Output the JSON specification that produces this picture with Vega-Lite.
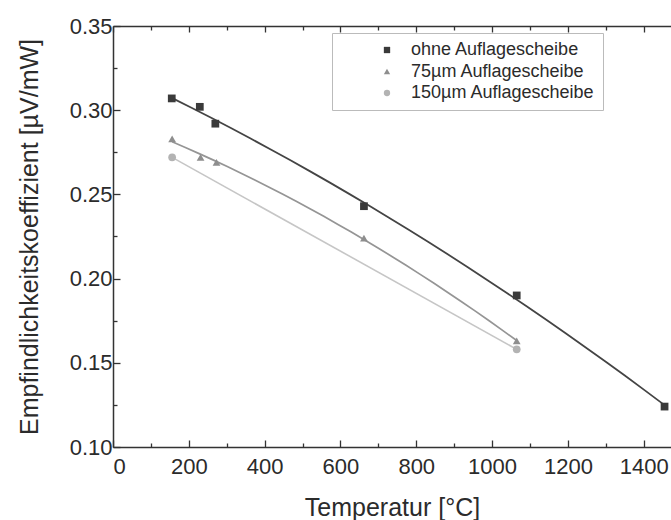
{
  "$schema": "https://vega.github.io/schema/vega-lite/v6.json",
  "autosize": "none",
  "width": 558,
  "height": 421,
  "padding": {"left": 113, "top": 26, "right": 0, "bottom": 73},
  "background": "white",
  "config": {
    "view": {"stroke": null},
    "font": "Liberation Sans",
    "axis": {
      "grid": false,
      "domainColor": "#333333",
      "tickColor": "#333333",
      "labelColor": "#2b2b2b",
      "titleColor": "#2b2b2b",
      "titleFontWeight": "normal",
      "labelFont": "Liberation Sans",
      "titleFont": "Liberation Sans",
      "domainWidth": 1.5,
      "tickWidth": 1.3
    }
  },
  "data": {
    "values": [
      {"s": "ohne Auflagescheibe", "t": 155, "v": 0.307},
      {"s": "ohne Auflagescheibe", "t": 229, "v": 0.302},
      {"s": "ohne Auflagescheibe", "t": 270, "v": 0.292},
      {"s": "ohne Auflagescheibe", "t": 662, "v": 0.243},
      {"s": "ohne Auflagescheibe", "t": 1065, "v": 0.19},
      {"s": "ohne Auflagescheibe", "t": 1455, "v": 0.124},
      {"s": "75µm Auflagescheibe", "t": 156, "v": 0.283},
      {"s": "75µm Auflagescheibe", "t": 231, "v": 0.272},
      {"s": "75µm Auflagescheibe", "t": 273, "v": 0.269},
      {"s": "75µm Auflagescheibe", "t": 662, "v": 0.224},
      {"s": "75µm Auflagescheibe", "t": 1065, "v": 0.163},
      {"s": "150µm Auflagescheibe", "t": 156, "v": 0.272},
      {"s": "150µm Auflagescheibe", "t": 1065, "v": 0.158}
    ]
  },
  "layer": [
    {
      "transform": [
        {"filter": "datum.s == 'ohne Auflagescheibe'"},
        {"regression": "v", "on": "t", "method": "poly", "order": 2}
      ],
      "mark": {"type": "line", "strokeWidth": 1.8, "color": "#444444"},
      "encoding": {
        "x": {
          "field": "t", "type": "quantitative",
          "scale": {"domain": [0, 1472], "nice": false, "zero": false},
          "axis": {"orient": "bottom", "values": [100, 300, 500, 700, 900, 1100, 1300], "tickSize": -4, "labels": false, "domain": false, "title": null}
        },
        "y": {
          "field": "v", "type": "quantitative",
          "scale": {"domain": [0.1, 0.35], "nice": false, "zero": false},
          "axis": {"orient": "left", "values": [0.125, 0.175, 0.225, 0.275, 0.325], "tickSize": -4, "labels": false, "domain": false, "title": null}
        }
      }
    },
    {
      "transform": [
        {"filter": "datum.s == '75µm Auflagescheibe'"},
        {"regression": "v", "on": "t", "method": "poly", "order": 2}
      ],
      "mark": {"type": "line", "strokeWidth": 1.7, "color": "#959595"},
      "encoding": {
        "x": {
          "field": "t", "type": "quantitative",
          "axis": {"orient": "top", "values": [0, 200, 400, 600, 800, 1000, 1200, 1400], "tickSize": -6, "labels": false, "domain": true, "title": null}
        },
        "y": {"field": "v", "type": "quantitative", "axis": null}
      }
    },
    {
      "transform": [
        {"filter": "datum.s == '150µm Auflagescheibe'"},
        {"regression": "v", "on": "t", "method": "linear"}
      ],
      "mark": {"type": "line", "strokeWidth": 1.6, "color": "#c6c6c6"},
      "encoding": {
        "x": {
          "field": "t", "type": "quantitative",
          "axis": {"orient": "top", "values": [100, 300, 500, 700, 900, 1100, 1300], "tickSize": -4, "labels": false, "domain": false, "title": null}
        },
        "y": {"field": "v", "type": "quantitative", "axis": null}
      }
    },
    {
      "mark": {"type": "point", "filled": true, "opacity": 1, "size": 60},
      "encoding": {
        "x": {
          "field": "t", "type": "quantitative",
          "axis": {
            "orient": "bottom",
            "values": [0, 200, 400, 600, 800, 1000, 1200, 1400],
            "format": "d",
            "tickSize": -7,
            "labelFontSize": 22,
            "labelPadding": 16,
            "title": "Temperatur [°C]",
            "titleFontSize": 25,
            "titlePadding": 18
          }
        },
        "y": {
          "field": "v", "type": "quantitative",
          "axis": {
            "orient": "left",
            "values": [0.1, 0.15, 0.2, 0.25, 0.3, 0.35],
            "format": ".2f",
            "tickSize": -7,
            "labelFontSize": 22,
            "labelPadding": 8,
            "title": "Empfindlichkeitskoeffizient [µV/mW]",
            "titleFontSize": 25,
            "titlePadding": 27
          }
        },
        "shape": {
          "field": "s", "type": "nominal",
          "scale": {"domain": ["ohne Auflagescheibe", "75µm Auflagescheibe", "150µm Auflagescheibe"], "range": ["square", "triangle-up", "circle"]},
          "legend": {
            "orient": "none", "legendX": 219, "legendY": 7, "title": null,
            "padding": 8, "rowPadding": 3.5, "symbolSize": 40, "symbolOffset": 38, "labelOffset": 15, "labelLimit": 400,
            "labelFontSize": 18, "labelColor": "#2b2b2b", "labelFont": "Liberation Sans",
            "strokeColor": "#bbbbbb",
            "encode": {"legend": {"update": {"strokeDash": {"value": [2, 2]}}}}
          }
        },
        "color": {
          "field": "s", "type": "nominal",
          "scale": {"domain": ["ohne Auflagescheibe", "75µm Auflagescheibe", "150µm Auflagescheibe"], "range": ["#3a3a3a", "#8e8e8e", "#b3b3b3"]},
          "legend": {
            "orient": "none", "legendX": 219, "legendY": 7, "title": null,
            "padding": 8, "rowPadding": 3.5, "symbolSize": 40, "symbolOffset": 38, "labelOffset": 15, "labelLimit": 400,
            "labelFontSize": 18, "labelColor": "#2b2b2b", "labelFont": "Liberation Sans",
            "strokeColor": "#bbbbbb",
            "encode": {"legend": {"update": {"strokeDash": {"value": [2, 2]}}}}
          }
        }
      }
    }
  ],
  "resolve": {"axis": {"x": "independent", "y": "independent"}}
}
